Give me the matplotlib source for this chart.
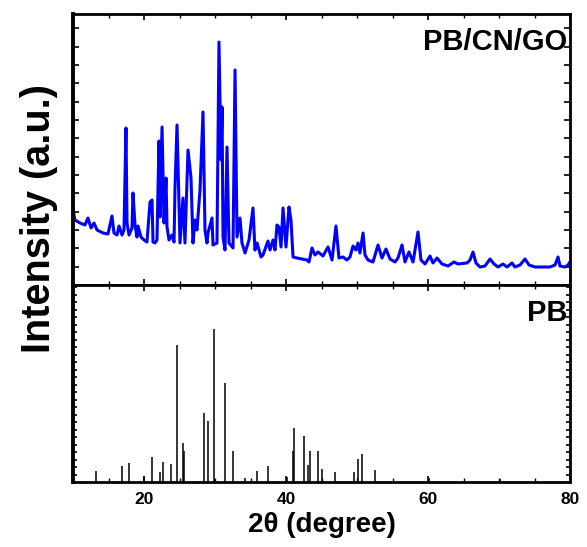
import matplotlib.pyplot as plt
from matplotlib.ticker import MultipleLocator, NullFormatter

plt.rcParams['font.family'] = ['Liberation Sans', 'DejaVu Sans']
plt.rcParams['font.weight'] = 'bold'

# PB/CN/GO measured pattern (2theta, intensity a.u.)
gcn_2theta = [10.00, 10.28, 10.99, 11.69, 12.11, 12.54, 12.96, 13.38, 14.23, 14.93,
              15.49, 15.77, 16.20, 16.48, 16.90, 17.18, 17.46, 17.61, 17.89, 18.31,
              18.45, 18.73, 19.01, 19.15, 19.58, 20.00, 20.42, 20.85, 21.13, 21.27,
              21.55, 21.83, 22.11, 22.25, 22.54, 22.82, 23.10, 23.24, 23.52, 23.94,
              24.23, 24.37, 24.65, 25.07, 25.49, 25.77, 26.20, 26.62, 26.90, 27.18,
              27.46, 27.89, 28.31, 28.59, 28.87, 29.01, 29.58, 29.72, 30.28, 30.56,
              30.85, 30.99, 31.13, 31.41, 31.69, 31.97, 32.54, 32.82, 33.10, 33.52,
              33.80, 34.23, 34.79, 35.35, 35.63, 35.92, 36.48, 36.76, 37.46, 37.75,
              38.17, 38.45, 38.73, 39.01, 39.30, 39.58, 40.00, 40.42, 40.70, 40.99,
              41.55, 42.25, 42.96, 43.24, 43.66, 44.08, 44.51, 45.21, 45.92, 46.48,
              47.04, 47.46, 48.03, 48.59, 49.01, 49.44, 49.86, 50.14, 50.42, 50.85,
              51.13, 51.55, 52.25, 52.96, 53.52, 54.08, 54.65, 55.35, 55.77, 56.34,
              56.76, 57.32, 57.89, 58.59, 59.01, 59.58, 60.28, 60.70, 61.27, 61.97,
              62.82, 63.66, 64.23, 65.49, 65.92, 66.34, 66.76, 67.32, 68.03, 68.73,
              69.30, 69.86, 70.56, 71.13, 71.83, 72.25, 72.96, 73.66, 74.23, 75.07,
              76.20, 77.18, 77.89, 78.31, 78.59, 79.30, 79.72, 80.00]
gcn_intensity = [75, 65, 62, 60, 67, 57, 62, 55, 52, 51,
                 69, 52, 50, 59, 50, 55, 157, 62, 50, 57,
                 92, 60, 48, 59, 48, 45, 43, 83, 85, 43,
                 42, 45, 144, 68, 158, 62, 107, 58, 45, 50,
                 43, 98, 160, 42, 87, 42, 135, 107, 42, 65,
                 55, 95, 173, 55, 42, 52, 67, 40, 42, 243,
                 125, 178, 48, 35, 138, 42, 37, 215, 48, 67,
                 42, 32, 45, 77, 35, 42, 28, 30, 44, 35,
                 45, 35, 60, 58, 38, 77, 38, 78, 65, 28,
                 27, 26, 25, 23, 37, 30, 33, 29, 38, 25,
                 59, 27, 28, 25, 28, 39, 35, 42, 32, 52,
                 30, 25, 23, 40, 27, 36, 26, 23, 27, 40,
                 23, 33, 23, 53, 25, 21, 29, 22, 27, 21,
                 19, 23, 21, 22, 25, 33, 22, 18, 19, 26,
                 21, 18, 21, 18, 22, 18, 20, 26, 20, 18,
                 18, 18, 20, 28, 19, 18, 20, 23]

# PB reference pattern (stick positions and heights)
pb_2theta = [13.24, 16.90, 17.89, 20.00, 21.13, 22.25, 22.68, 23.80, 24.65, 25.49,
             25.63, 28.45, 29.01, 29.86, 30.07, 31.41, 32.54, 34.23, 35.92, 37.46,
             40.14, 40.99, 41.13, 42.54, 43.10, 43.38, 44.51, 45.07, 46.90, 49.58,
             50.14, 50.70, 52.54, 60.14, 70.14]
pb_intensity = [11, 16, 19, 5, 25, 10, 20, 18, 137, 39,
                31, 69, 61, 153, 3, 99, 31, 4, 11, 16,
                5, 31, 54, 46, 17, 31, 31, 13, 10, 10,
                23, 28, 12, 4, 3]

fig = plt.figure(figsize=(5.87, 5.47), dpi=100)
left, width = 73 / 587, (570 - 73) / 587
ax1 = fig.add_axes([left, 1 - 285 / 547, width, (285 - 14) / 547])
ax2 = fig.add_axes([left, 1 - 482 / 547, width, (482 - 285) / 547])

ax1.plot(gcn_2theta, gcn_intensity, color='#0000ff', lw=2.2,
         solid_joinstyle='round')
ax1.set_xlim(10, 80)
ax1.set_ylim(0, 271)
ax1.text(0.995, 0.95, 'PB/CN/GO', transform=ax1.transAxes, ha='right', va='top',
         fontsize=21, fontweight='bold')

ax2.vlines(pb_2theta, 0, pb_intensity, color='black', lw=1.1)
ax2.set_xlim(10, 80)
ax2.set_ylim(0, 197)
ax2.text(0.995, 0.93, 'PB', transform=ax2.transAxes, ha='right', va='top',
         fontsize=21, fontweight='bold')

for ax in (ax1, ax2):
    for s in ax.spines.values():
        s.set_linewidth(2.0)
    ax.spines['left'].set_linewidth(2.8)
    ax.xaxis.set_major_locator(MultipleLocator(20))
    ax.xaxis.set_minor_locator(MultipleLocator(5))
    ax.tick_params(which='both', direction='in', top=True, right=True,
                   left=True, bottom=True, labelleft=False)
    ax.tick_params(which='major', length=4, width=1.2)
    ax.tick_params(which='minor', length=3, width=1.0)

ax1.yaxis.set_major_locator(MultipleLocator(18.33))
ax1.yaxis.set_minor_locator(MultipleLocator(18.33))
ax1.xaxis.set_major_formatter(NullFormatter())
ax2.yaxis.set_major_locator(MultipleLocator(7.5))
ax2.tick_params(axis='y', which='major', length=3)

ax2.tick_params(axis='x', labelsize=12.5, pad=7)
for lab in ax2.get_xticklabels():
    lab.set_fontweight('bold')
ax2.set_xlabel('2θ (degree)', fontsize=20, fontweight='bold', labelpad=4)

fig.text(0.066, 0.6, 'Intensity (a.u.)', rotation=90, ha='center', va='center',
         fontsize=28.5, fontweight='bold')

fig.savefig('out.png', dpi=100)
